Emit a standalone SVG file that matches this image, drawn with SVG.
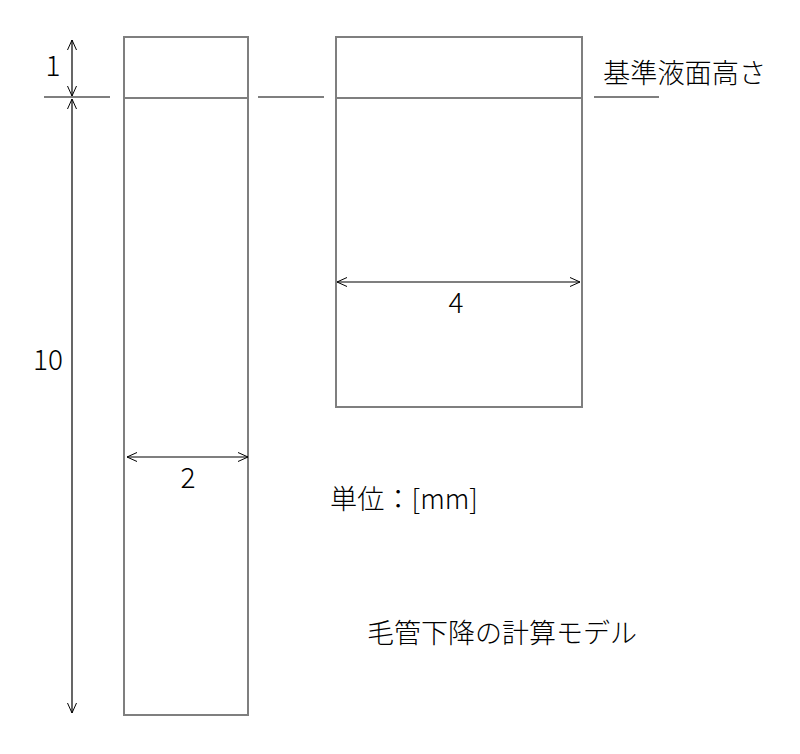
<svg xmlns="http://www.w3.org/2000/svg" width="800" height="754" viewBox="0 0 800 754">
<defs>
<marker id="ah" viewBox="0 0 12 12" refX="11" refY="6" markerWidth="12" markerHeight="12" markerUnits="userSpaceOnUse" orient="auto-start-reverse">
<path d="M1,1.5 L11,6 L1,10.5" fill="none" stroke="#000" stroke-width="1"/>
</marker>
<style>
.tube{fill:#fff;stroke:#7f7f7f;stroke-width:2}
.lvl{stroke:#7f7f7f;stroke-width:2;fill:none}
.dim{stroke:#000;stroke-width:1.2;fill:none;marker-start:url(#ah);marker-end:url(#ah)}
.ref{stroke:#000;stroke-width:1.2;fill:none}
.t{font-family:"Noto Sans CJK JP","Liberation Sans",sans-serif;font-weight:300;fill:#000}
</style>
</defs>
<rect width="800" height="754" fill="#fff"/>
<g id="tube-narrow">
<rect class="tube" x="124" y="37" width="124" height="678"/>
<line class="lvl" x1="124" y1="98" x2="248" y2="98"/>
</g>
<g id="tube-wide">
<rect class="tube" x="336" y="37" width="246" height="370"/>
<line class="lvl" x1="336" y1="98" x2="582" y2="98"/>
</g>
<g id="connectors">
<line class="ref" x1="44" y1="97" x2="110" y2="97"/>
<line class="ref" x1="258" y1="97" x2="324" y2="97"/>
<line class="ref" x1="594" y1="97" x2="659" y2="97"/>
<line class="dim" x1="72" y1="40" x2="72" y2="96"/>
<line class="dim" x1="72" y1="99" x2="72" y2="713"/>
<line class="dim" x1="337" y1="282" x2="580" y2="282"/>
<line class="dim" x1="127" y1="457" x2="248" y2="457"/>
</g>
<g id="labels">
<text class="t" x="53" y="76" font-size="28" text-anchor="middle">1</text>
<text class="t" x="48" y="370" font-size="28" text-anchor="middle">10</text>
<text class="t" x="456" y="313" font-size="28" text-anchor="middle">4</text>
<text class="t" x="188" y="488" font-size="28" text-anchor="middle">2</text>
<text class="t" x="603" y="83" font-size="27.2">基準液面高さ</text>
<text class="t" x="330" y="509" font-size="27.2">単位：[mm]</text>
<text class="t" x="367" y="643" font-size="27">毛管下降の計算モデル</text>
</g>
</svg>
